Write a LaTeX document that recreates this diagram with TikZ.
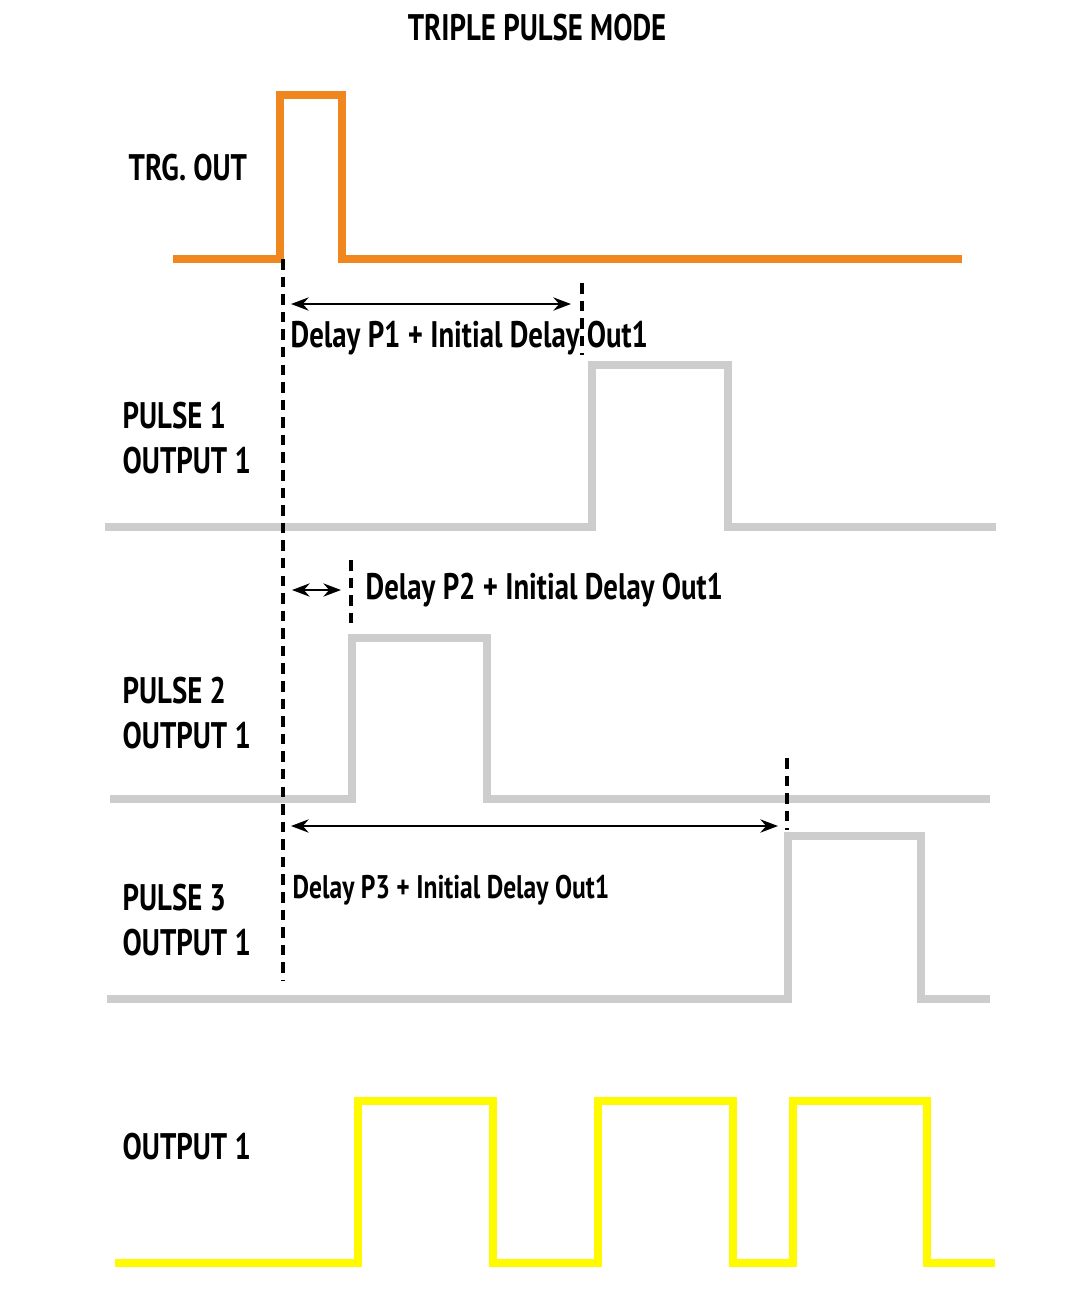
\documentclass[tikz,border=0pt]{standalone}
\usepackage{fontspec}
\setmainfont{PT Sans}[FakeStretch=0.78]
\usetikzlibrary{arrows.meta,positioning}
\definecolor{trgorange}{RGB}{240,135,30}
\definecolor{pulsegray}{RGB}{205,205,205}
\definecolor{outyellow}{RGB}{255,250,0}
\tikzset{
  wave/.style={line width=0.08cm, line join=miter},
  lbl/.style={font=\bfseries\fontsize{10.5}{12.8}\selectfont, align=left, anchor=west, inner sep=0pt},
  dly/.style={font=\bfseries\fontsize{9.3}{11}\selectfont, anchor=west, inner sep=0pt},
  tmark/.style={densely dashed, line width=0.9pt},
  span/.style={{Stealth[length=5pt]}-{Stealth[length=5pt]}, line width=0.7pt}
}
\begin{document}
\begin{tikzpicture}[x=0.01cm,y=-0.01cm]
  \useasboundingbox (0,0) rectangle (1065,1311);
  \node[font=\bfseries\fontsize{10.5}{12.8}\selectfont] (title) at (537,28) {TRIPLE PULSE MODE};
  % waveforms
  \draw[wave, trgorange] (173,259)--(280,259)--(280,95)--(342,95)--(342,259)--(962,259);
  \draw[wave, pulsegray] (105,527)--(592,527)--(592,365)--(728,365)--(728,527)--(996,527);
  \draw[wave, pulsegray] (110,799)--(352,799)--(352,638)--(487,638)--(487,799)--(990,799);
  \draw[wave, pulsegray] (107,999)--(788,999)--(788,836)--(921,836)--(921,999)--(990,999);
  \draw[wave, outyellow] (115,1263)--(358,1263)--(358,1101)--(493,1101)--(493,1263)--(598,1263)
    --(598,1101)--(733,1101)--(733,1263)--(793,1263)--(793,1101)--(927,1101)--(927,1263)--(995,1263);
  % labels
  \node[lbl] (trg) at (128,168) {TRG. OUT};
  \node[lbl] (p1) at (122,438) {PULSE 1\\OUTPUT 1};
  \node[lbl] (p2) at (122,713) {PULSE 2\\OUTPUT 1};
  \node[lbl] (p3) at (122,920) {PULSE 3\\OUTPUT 1};
  \node[lbl] (out) at (122,1147) {OUTPUT 1};
  % delay markers
  \coordinate (t0top) at (283,259);
  \coordinate (t0bot) at (283,980);
  \draw[tmark] (t0top)--(t0bot);
  \coordinate (m1a) at (582,283); \coordinate (m1b) at (582,355);
  \coordinate (m2a) at (351,560); \coordinate (m2b) at (351,630);
  \coordinate (m3a) at (787,758); \coordinate (m3b) at (787,830);
  \draw[tmark] (m1a)--(m1b);
  \draw[tmark] (m2a)--(m2b);
  \draw[tmark] (m3a)--(m3b);
  \coordinate (a1l) at (291,304); \coordinate (a1r) at (571,304);
  \coordinate (a2l) at (292,590); \coordinate (a2r) at (341,590);
  \coordinate (a3l) at (291,826); \coordinate (a3r) at (778,826);
  \draw[span] (a1l)--(a1r);
  \draw[span] (a2l)--(a2r);
  \draw[span] (a3l)--(a3r);
  \node[lbl] (d1) at (290,338) {Delay P1 + Initial Delay Out1};
  \node[lbl] (d2) at (365,590) {Delay P2 + Initial Delay Out1};
  \node[dly] (d3) at (292,890) {Delay P3 + Initial Delay Out1};
\end{tikzpicture}
\end{document}
